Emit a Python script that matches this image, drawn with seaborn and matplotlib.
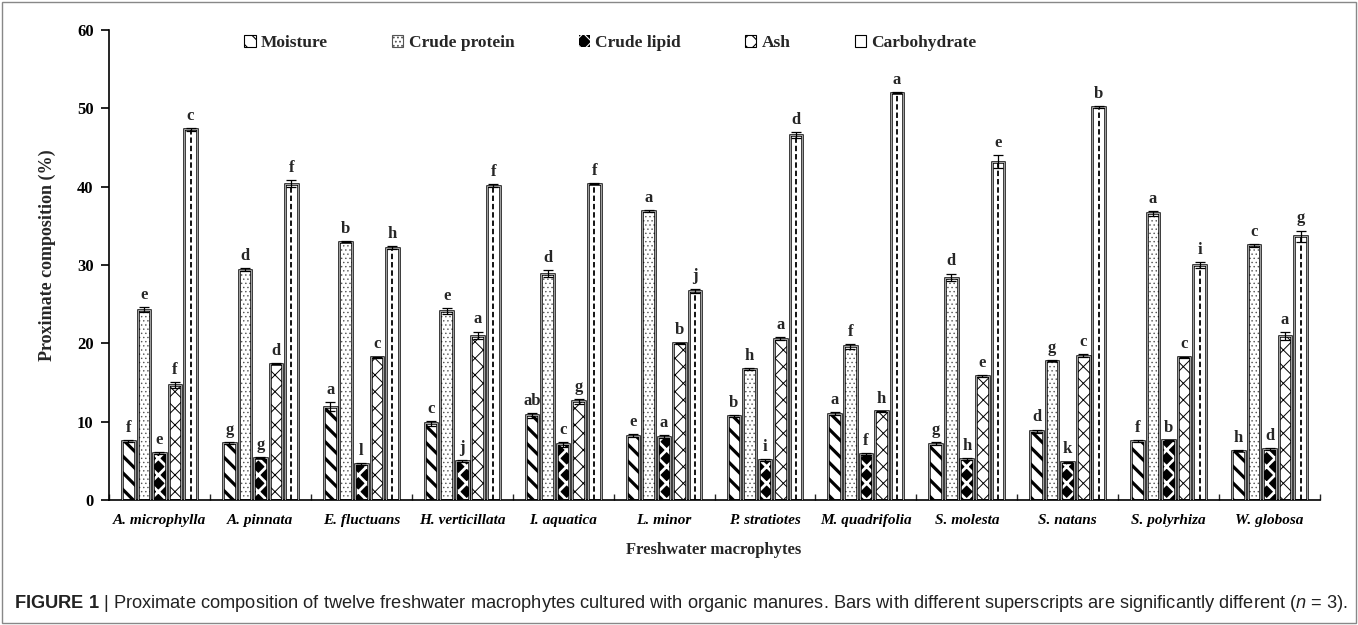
import numpy as np
import pandas as pd
import matplotlib
matplotlib.use("Agg")
import matplotlib.pyplot as plt
import seaborn as sns
from matplotlib.patches import Rectangle, Patch
from matplotlib import font_manager

# ---------------- data ----------------
plants = ["A. microphylla", "A. pinnata", "E. fluctuans", "H. verticillata",
          "I. aquatica", "L. minor", "P. stratiotes", "M. quadrifolia",
          "S. molesta", "S. natans", "S. polyrhiza", "W. globosa"]
components = ["Moisture", "Crude protein", "Crude lipid", "Ash", "Carbohydrate"]

moisture = [7.5, 7.3, 11.9, 9.8, 10.8, 8.2, 10.7, 11.0, 7.2, 8.8, 7.5, 6.3]
protein = [24.3, 29.4, 33.0, 24.1, 28.9, 36.9, 16.7, 19.6, 28.4, 17.8, 36.6, 32.5]
lipid = [6.0, 5.4, 4.6, 5.0, 7.1, 8.1, 5.1, 5.9, 5.2, 4.8, 7.6, 6.5]
ash = [14.7, 17.4, 18.2, 21.0, 12.6, 20.0, 20.6, 11.3, 15.8, 18.4, 18.2, 20.9]
carbohydrate = [47.3, 40.4, 32.2, 40.1, 40.4, 26.7, 46.6, 52.0, 43.2, 50.2, 30.0, 33.7]

moisture_err = [0.1, 0.1, 0.6, 0.3, 0.3, 0.2, 0.1, 0.2, 0.2, 0.2, 0.1, 0.1]
protein_err = [0.3, 0.2, 0.1, 0.4, 0.4, 0.1, 0.1, 0.3, 0.5, 0.1, 0.3, 0.2]
lipid_err = [0.1, 0.1, 0.1, 0.1, 0.3, 0.2, 0.1, 0.1, 0.1, 0.1, 0.1, 0.1]
ash_err = [0.4, 0.1, 0.1, 0.5, 0.3, 0.1, 0.2, 0.1, 0.1, 0.2, 0.1, 0.5]
carbohydrate_err = [0.2, 0.4, 0.2, 0.2, 0.1, 0.3, 0.4, 0.1, 0.8, 0.1, 0.4, 0.7]

moisture_let = ["f", "g", "a", "c", "ab", "e", "b", "a", "g", "d", "f", "h"]
protein_let = ["e", "d", "b", "e", "d", "a", "h", "f", "d", "g", "a", "c"]
lipid_let = ["e", "g", "l", "j", "c", "a", "i", "f", "h", "k", "b", "d"]
ash_let = ["f", "d", "c", "a", "g", "b", "a", "h", "e", "c", "c", "a"]
carbohydrate_let = ["c", "f", "h", "f", "f", "j", "d", "a", "e", "b", "i", "g"]

values = [moisture, protein, lipid, ash, carbohydrate]
errors = [moisture_err, protein_err, lipid_err, ash_err, carbohydrate_err]
letters = [moisture_let, protein_let, lipid_let, ash_let, carbohydrate_let]

df = pd.DataFrame({
    "Plant": np.tile(plants, len(components)),
    "Component": np.repeat(components, len(plants)),
    "Value": np.concatenate(values),
})

# ---------------- style ----------------
sns.set_theme(style="white")
plt.rcParams["font.family"] = ["Liberation Serif", "DejaVu Serif"]

cap_font = "Liberation Sans"
try:
    font_manager.findfont("Liberation Sans Narrow", fallback_to_default=False)
    cap_font = "Liberation Sans Narrow"
except Exception:
    pass
plt.rcParams["mathtext.fontset"] = "custom"
plt.rcParams["mathtext.rm"] = cap_font
plt.rcParams["mathtext.it"] = cap_font + ":italic"
plt.rcParams["mathtext.bf"] = cap_font + ":bold"

styles = {
    "Moisture": dict(face="white", hc="black", hatch="\\\\", hlw=2.3),
    "Crude protein": dict(face="white", hc="#555555", hatch="....", hlw=0.5),
    "Crude lipid": dict(face="black", hc="white", hatch="xx", hlw=2.0),
    "Ash": dict(face="white", hc="black", hatch="xx", hlw=0.7),
    "Carbohydrate": dict(face="white", hc="white", hatch=None, hlw=0.5),
}


def apply_hatch_lw(p, lw):
    plt.rcParams["hatch.linewidth"] = lw
    try:
        p.set_hatch_linewidth(lw)
    except AttributeError:
        pass


W, H = 1358, 625
fig = plt.figure(figsize=(W / 100, H / 100), dpi=100)
ax = fig.add_axes([109 / W, 125 / H, 1211 / W, 470 / H])

sns.barplot(data=df, x="Plant", y="Value", hue="Component", order=plants,
            hue_order=components, palette=["white"] * 5, saturation=1,
            width=0.77, gap=0.19, errorbar=None, legend=False, ax=ax)

for ci, (comp, cont) in enumerate(zip(components, ax.containers)):
    st = styles[comp]
    for i, p in enumerate(cont.patches):
        p.set_facecolor(st["face"])
        p.set_edgecolor(st["hc"])
        p.set_linewidth(0)
        if st["hatch"]:
            p.set_hatch(st["hatch"])
        apply_hatch_lw(p, st["hlw"])
        x0, w, h = p.get_x(), p.get_width(), p.get_height()
        cx = x0 + w / 2
        if comp == "Carbohydrate":
            ax.plot([cx, cx], [0, h], color="black", lw=1.3,
                    ls=(0, (3, 1.6)), zorder=2.5, solid_capstyle="butt")
        ax.add_patch(Rectangle((x0, 0), w, h, fill=False, ec="black",
                               lw=1.8, zorder=3))
        ax.add_patch(Rectangle((x0, 0), w, h, fill=False, ec="white",
                               lw=0.45, zorder=3.1))
        err = errors[ci][i]
        ax.errorbar(cx, h, yerr=err, fmt="none", ecolor="black",
                    elinewidth=0.9, capsize=3.3, capthick=0.9, zorder=4)
        ax.annotate(letters[ci][i], (cx, h + err), xytext=(0, 3),
                    textcoords="offset points", ha="center", va="bottom",
                    fontsize=12, fontweight="bold")

ax.set_ylim(0, 60)
ax.set_xlim(-0.5, len(plants) - 0.5)
ax.set_yticks(np.arange(0, 61, 10))
ax.set_xticks(np.arange(len(plants)))
ax.set_xticklabels(plants, fontstyle="italic", fontweight="bold", fontsize=11)
ax.set_xticks(np.arange(-0.5, len(plants), 1), minor=True)
for lab in ax.get_yticklabels():
    lab.set_fontweight("bold")
ax.tick_params(axis="y", direction="out", length=6, width=1.2, pad=5,
               labelsize=12, left=True, colors="black")
ax.tick_params(axis="x", which="major", length=0, pad=10, colors="black")
ax.tick_params(axis="x", which="minor", direction="in", length=4, width=1,
               bottom=True)
ax.set_xlabel("")
ax.set_ylabel("")
for s in ["top", "right"]:
    ax.spines[s].set_visible(False)
for s in ["left", "bottom"]:
    ax.spines[s].set_color("black")
    ax.spines[s].set_linewidth(1.2)

# legend
handles = []
for comp in components:
    st = styles[comp]
    if comp == "Carbohydrate":
        plt.rcParams["hatch.linewidth"] = 0.8
        hp = Patch(facecolor="white", edgecolor="black", lw=0.8)
    elif comp == "Crude lipid":
        plt.rcParams["hatch.linewidth"] = 1.2
        hp = Patch(facecolor="black", edgecolor="white", hatch="xx", lw=0)
    else:
        plt.rcParams["hatch.linewidth"] = min(st["hlw"], 1.5)
        hp = Patch(facecolor=st["face"], edgecolor="black" if comp != "Crude protein" else st["hc"],
                   hatch=st["hatch"], lw=0.8)
    handles.append(hp)
ax.legend(handles, components, loc="center", bbox_to_anchor=(0.414, 0.972),
          ncol=5, frameon=False, prop=dict(weight="bold", size=12.5),
          handlelength=0.65, handleheight=0.65, handletextpad=0.3,
          columnspacing=3.7)

fig.text(714 / W, 1 - 550 / H, "Freshwater macrophytes", ha="center",
         va="center", fontsize=12, fontweight="bold")
fig.text(47 / W, 1 - 255 / H, "Proximate composition (%)", ha="center",
         va="center", rotation=90, fontsize=13, fontweight="bold")

caption = (r"$\mathbf{FIGURE\ 1}$ | Proximate composition of twelve freshwater "
           r"macrophytes cultured with organic manures. Bars with different "
           r"superscripts are significantly different ($n$ = 3).")
cap = fig.text(14 / W, 1 - 603 / H, caption, ha="left", va="center",
               fontsize=11, family=[cap_font, "DejaVu Sans"],
               color="#222222")
fig.canvas.draw()
bb = cap.get_window_extent()
cap.set_fontsize(11 * 1334 / bb.width)

fig.add_artist(Rectangle((2 / W, 2 / H), 1 - 4 / W, 1 - 4 / H,
                         transform=fig.transFigure, fill=False,
                         ec="#888888", lw=1))

fig.savefig("out.png", dpi=100)
